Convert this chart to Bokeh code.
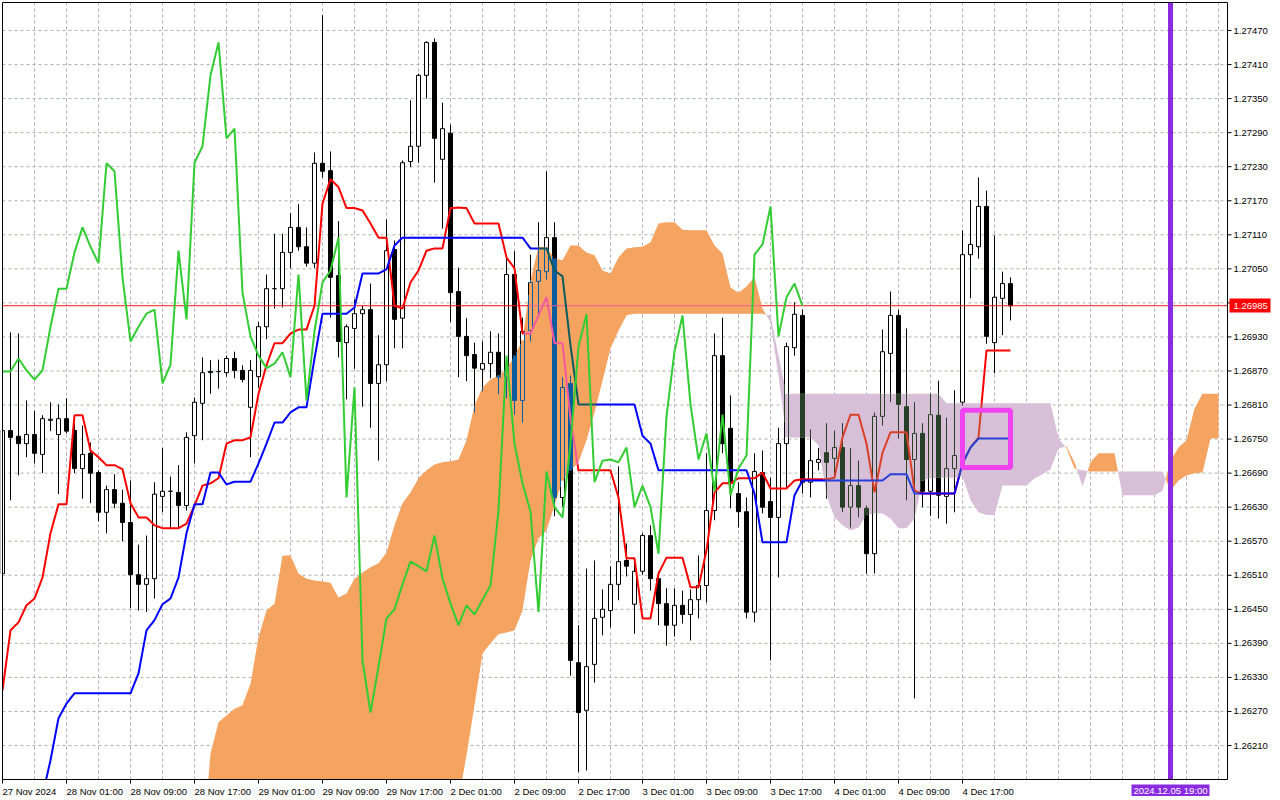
import numpy as np
from bokeh.plotting import figure
from bokeh.models import Range1d
from bokeh.core.properties import value
from bokeh.embed import file_html
from bokeh.resources import INLINE

# GBPUSD H1, bars from 27 Nov 17:00 to 4 Dec 23:00 (bar index = x)
open_ = [
    1.26513, 1.26765, 1.26755, 1.26742, 1.26758, 1.26723, 1.26783, 1.26758, 1.26786, 1.26765,
    1.26698, 1.26725, 1.26691, 1.26621, 1.26661, 1.26637, 1.26603, 1.26511, 1.26494, 1.26504,
    1.26649, 1.26658, 1.26656, 1.26633, 1.26756, 1.26813, 1.26867, 1.26869, 1.26867, 1.26892,
    1.26871, 1.26806, 1.26860, 1.26948, 1.27015, 1.27015, 1.27079, 1.27123, 1.27089, 1.27060,
    1.27236, 1.27223, 1.27038, 1.26920, 1.26945, 1.26971, 1.26978, 1.26848, 1.26881, 1.27084,
    1.26963, 1.27239, 1.27266, 1.27391, 1.27449, 1.27243, 1.27289, 1.27010, 1.26931, 1.26899,
    1.26873, 1.26883, 1.26903, 1.26859, 1.27040, 1.26818, 1.26941, 1.27028, 1.27045, 1.27105,
    1.26647, 1.26848, 1.26356, 1.26272, 1.26353, 1.26436, 1.26448, 1.26494, 1.26536, 1.26459,
    1.26517, 1.26580, 1.26504, 1.26460, 1.26422, 1.26457, 1.26441, 1.26467, 1.26492, 1.26624,
    1.26897, 1.26769, 1.26654, 1.26622, 1.26445, 1.26691, 1.26640, 1.26612, 1.26742, 1.26911,
    1.26968, 1.26674, 1.26709, 1.26726, 1.26716, 1.26735, 1.26630, 1.26668, 1.26628, 1.26548,
    1.26790, 1.26901, 1.26968, 1.26807, 1.26714, 1.26760, 1.26658, 1.26792, 1.26649, 1.26698,
    1.26815, 1.27075, 1.27089, 1.27160, 1.26920, 1.26998, 1.27024,
]
high = [
    1.26769, 1.26938, 1.26936, 1.26818, 1.26800, 1.26792, 1.26815, 1.26811, 1.26822, 1.26778,
    1.26774, 1.26744, 1.26695, 1.26668, 1.26688, 1.26661, 1.26677, 1.26564, 1.26580, 1.26674,
    1.26734, 1.26684, 1.26704, 1.26762, 1.26823, 1.26894, 1.26889, 1.26890, 1.26897, 1.26904,
    1.26880, 1.26889, 1.26956, 1.27040, 1.27112, 1.27112, 1.27148, 1.27164, 1.27123, 1.27255,
    1.27497, 1.27257, 1.27134, 1.26952, 1.26996, 1.26985, 1.27024, 1.26933, 1.27137, 1.27100,
    1.27241, 1.27347, 1.27394, 1.27451, 1.27456, 1.27343, 1.27304, 1.27052, 1.26963, 1.26920,
    1.26922, 1.26940, 1.26936, 1.27070, 1.27081, 1.26964, 1.27075, 1.27132, 1.27222, 1.27132,
    1.26859, 1.26862, 1.26422, 1.26522, 1.26536, 1.26485, 1.26526, 1.26702, 1.26566, 1.26540,
    1.26584, 1.26598, 1.26517, 1.26487, 1.26487, 1.26483, 1.26485, 1.26545, 1.26725, 1.26936,
    1.26964, 1.26827, 1.26674, 1.26647, 1.26725, 1.26730, 1.26682, 1.26770, 1.26920, 1.26991,
    1.26978, 1.26767, 1.26734, 1.26778, 1.26765, 1.26778, 1.26734, 1.26712, 1.26633, 1.26797,
    1.26943, 1.27010, 1.26978, 1.26945, 1.26815, 1.26778, 1.26830, 1.26853, 1.26788, 1.26836,
    1.27118, 1.27171, 1.27211, 1.27188, 1.27109, 1.27045, 1.27035,
]
low = [
    1.26510, 1.26642, 1.26686, 1.26718, 1.26707, 1.26690, 1.26764, 1.26653, 1.26760, 1.26690,
    1.26645, 1.26637, 1.26605, 1.26584, 1.26628, 1.26570, 1.26452, 1.26448, 1.26445, 1.26469,
    1.26621, 1.26593, 1.26594, 1.26624, 1.26707, 1.26748, 1.26830, 1.26839, 1.26860, 1.26857,
    1.26850, 1.26718, 1.26841, 1.26926, 1.26980, 1.26982, 1.27051, 1.27082, 1.27054, 1.27051,
    1.27211, 1.26964, 1.26894, 1.26820, 1.26874, 1.26807, 1.26770, 1.26712, 1.26852, 1.26910,
    1.26910, 1.27229, 1.27237, 1.27350, 1.27202, 1.27121, 1.26956, 1.26859, 1.26852, 1.26797,
    1.26834, 1.26857, 1.26829, 1.26822, 1.26793, 1.26779, 1.26922, 1.26964, 1.27031, 1.26614,
    1.26631, 1.26333, 1.26163, 1.26166, 1.26321, 1.26404, 1.26418, 1.26466, 1.26508, 1.26407,
    1.26511, 1.26483, 1.26422, 1.26386, 1.26402, 1.26425, 1.26395, 1.26434, 1.26462, 1.26607,
    1.26725, 1.26628, 1.26594, 1.26434, 1.26427, 1.26619, 1.26360, 1.26506, 1.26665, 1.26897,
    1.26654, 1.26647, 1.26695, 1.26645, 1.26681, 1.26621, 1.26594, 1.26612, 1.26513, 1.26513,
    1.26774, 1.26815, 1.26751, 1.26642, 1.26293, 1.26630, 1.26615, 1.26610, 1.26601, 1.26621,
    1.26809, 1.26998, 1.27068, 1.26918, 1.26866, 1.26933, 1.26959,
]
close = [
    1.26765, 1.26753, 1.26742, 1.26758, 1.26725, 1.26786, 1.26785, 1.26786, 1.26764, 1.26698,
    1.26723, 1.26690, 1.26621, 1.26661, 1.26637, 1.26603, 1.26511, 1.26494, 1.26504, 1.26653,
    1.26658, 1.26658, 1.26633, 1.26753, 1.26815, 1.26867, 1.26869, 1.26869, 1.26892, 1.26871,
    1.26855, 1.26871, 1.26948, 1.27015, 1.27015, 1.27079, 1.27123, 1.27089, 1.27060, 1.27236,
    1.27222, 1.27035, 1.26922, 1.26948, 1.26971, 1.26978, 1.26848, 1.26881, 1.27082, 1.26961,
    1.27237, 1.27266, 1.27391, 1.27449, 1.27280, 1.27297, 1.27008, 1.26931, 1.26897, 1.26875,
    1.26883, 1.26903, 1.26859, 1.27040, 1.26818, 1.26940, 1.27026, 1.27047, 1.27105, 1.26647,
    1.26841, 1.26360, 1.26268, 1.26349, 1.26434, 1.26450, 1.26494, 1.26534, 1.26526, 1.26517,
    1.26580, 1.26504, 1.26460, 1.26422, 1.26457, 1.26441, 1.26467, 1.26492, 1.26624, 1.26897,
    1.26742, 1.26672, 1.26622, 1.26445, 1.26693, 1.26630, 1.26612, 1.26742, 1.26913, 1.26970,
    1.26674, 1.26712, 1.26714, 1.26709, 1.26735, 1.26630, 1.26668, 1.26630, 1.26548, 1.26790,
    1.26904, 1.26968, 1.26811, 1.26714, 1.26760, 1.26658, 1.26793, 1.26651, 1.26698, 1.26721,
    1.27075, 1.27093, 1.27160, 1.26931, 1.27000, 1.27024, 1.26985,
]

# Ichimoku: Tenkan-sen (red), Kijun-sen (blue)
tenkan = [
    1.26307, 1.26413, 1.26427, 1.26457, 1.26469, 1.26506, 1.26584, 1.26635, 1.26635, 1.26792,
    1.26792, 1.26730, 1.26718, 1.26704, 1.26704, 1.26697, 1.26637, 1.26612, 1.26612, 1.26598,
    1.26593, 1.26593, 1.26593, 1.26601, 1.26633, 1.26668, 1.26672, 1.26681, 1.26742, 1.26748,
    1.26748, 1.26753, 1.26830, 1.26880, 1.26919, 1.26919, 1.26936, 1.26943, 1.26943, 1.26985,
    1.27165, 1.27208, 1.27194, 1.27157, 1.27157, 1.27153, 1.27130, 1.27105, 1.27105, 1.26985,
    1.26980, 1.27026, 1.27047, 1.27082, 1.27086, 1.27086, 1.27157, 1.27158, 1.27157, 1.27130,
    1.27130, 1.27130, 1.27130, 1.27070, 1.27051, 1.26936, 1.26936, 1.26968, 1.27000, 1.26919,
    1.26919, 1.26786, 1.26695, 1.26695, 1.26695, 1.26695, 1.26695, 1.26647, 1.26540, 1.26540,
    1.26434, 1.26434, 1.26513, 1.26541, 1.26541, 1.26541, 1.26489, 1.26489, 1.26554, 1.26656,
    1.26672, 1.26672, 1.26681, 1.26681, 1.26681, 1.26691, 1.26663, 1.26663, 1.26663, 1.26677,
    1.26679, 1.26679, 1.26679, 1.26679, 1.26682, 1.26753, 1.26793, 1.26793, 1.26742, 1.26656,
    1.26726, 1.26762, 1.26762, 1.26762, 1.26659, 1.26654, 1.26654, 1.26654, 1.26654, 1.26654,
    1.26707, 1.26735, 1.26753, 1.26906, 1.26906, 1.26906, 1.26906,
]
kijun = [
    1.26040, 1.26045, 1.26050, 1.26060, 1.26090, 1.26122, 1.26184, 1.26258, 1.26284, 1.26302,
    1.26302, 1.26302, 1.26302, 1.26302, 1.26302, 1.26302, 1.26302, 1.26337, 1.26413, 1.26431,
    1.26459, 1.26469, 1.26506, 1.26584, 1.26635, 1.26635, 1.26691, 1.26691, 1.26670, 1.26675,
    1.26675, 1.26675, 1.26707, 1.26742, 1.26779, 1.26779, 1.26797, 1.26806, 1.26806, 1.26892,
    1.26971, 1.26971, 1.26971, 1.26971, 1.26982, 1.27042, 1.27042, 1.27042, 1.27049, 1.27091,
    1.27105, 1.27105, 1.27105, 1.27105, 1.27105, 1.27105, 1.27105, 1.27105, 1.27105, 1.27105,
    1.27105, 1.27105, 1.27105, 1.27105, 1.27105, 1.27105, 1.27086, 1.27086, 1.27086, 1.27047,
    1.27037, 1.26915, 1.26811, 1.26811, 1.26811, 1.26811, 1.26811, 1.26811, 1.26811, 1.26811,
    1.26756, 1.26742, 1.26695, 1.26695, 1.26695, 1.26695, 1.26695, 1.26695, 1.26695, 1.26695,
    1.26695, 1.26695, 1.26695, 1.26695, 1.26654, 1.26568, 1.26568, 1.26568, 1.26568, 1.26651,
    1.26677, 1.26677, 1.26677, 1.26677, 1.26677, 1.26677, 1.26677, 1.26677, 1.26677, 1.26677,
    1.26677, 1.26688, 1.26688, 1.26688, 1.26654, 1.26654, 1.26654, 1.26654, 1.26654, 1.26654,
    1.26707, 1.26735, 1.26751, 1.26751, 1.26751, 1.26751, 1.26751,
]
# Senkou Span A / B, already shifted 26 bars forward (153 values)
span_a = [
    1.25962, 1.25958, 1.25971, 1.25983, 1.25979, 1.25990, 1.26001, 1.25996, 1.26004, 1.26012,
    1.26008, 1.26015, 1.26021, 1.26017, 1.26010, 1.26006, 1.26013, 1.26019, 1.26024, 1.26016,
    1.26009, 1.26014, 1.26020, 1.26018, 1.26022, 1.26025, 1.26196, 1.26251, 1.26263, 1.26275,
    1.26281, 1.26319, 1.26401, 1.26448, 1.26460, 1.26545, 1.26545, 1.26513, 1.26504, 1.26501,
    1.26499, 1.26497, 1.26471, 1.26478, 1.26504, 1.26515, 1.26524, 1.26531, 1.26550, 1.26598,
    1.26637, 1.26656, 1.26681, 1.26695, 1.26705, 1.26709, 1.26711, 1.26714, 1.26748, 1.26809,
    1.26841, 1.26855, 1.26862, 1.26873, 1.26897, 1.26924, 1.27030, 1.27089, 1.27089, 1.27068,
    1.27065, 1.27091, 1.27091, 1.27079, 1.27074, 1.27047, 1.27042, 1.27070, 1.27086, 1.27088,
    1.27089, 1.27097, 1.27130, 1.27132, 1.27132, 1.27119, 1.27118, 1.27118, 1.27118, 1.27091,
    1.27077, 1.27017, 1.27008, 1.27019, 1.27035, 1.26980, 1.26956, 1.26862, 1.26753, 1.26753,
    1.26753, 1.26753, 1.26739, 1.26651, 1.26612, 1.26598, 1.26589, 1.26594, 1.26616, 1.26619,
    1.26619, 1.26610, 1.26593, 1.26593, 1.26610, 1.26677, 1.26681, 1.26682, 1.26682, 1.26682,
    1.26684, 1.26642, 1.26621, 1.26616, 1.26616, 1.26668, 1.26668, 1.26668, 1.26668, 1.26681,
    1.26688, 1.26697, 1.26734, 1.26737, 1.26709, 1.26667, 1.26709, 1.26725, 1.26725, 1.26725,
    1.26651, 1.26651, 1.26651, 1.26651, 1.26651, 1.26659, 1.26712, 1.26735, 1.26748, 1.26804,
    1.26830, 1.26830, 1.26830,
]
span_b = [
    1.25912, 1.25912, 1.25908, 1.25908, 1.25915, 1.25915, 1.25915, 1.25920, 1.25920, 1.25926,
    1.25926, 1.25926, 1.25931, 1.25931, 1.25931, 1.25937, 1.25937, 1.25940, 1.25940, 1.25940,
    1.25944, 1.25944, 1.25950, 1.25950, 1.25950, 1.25955, 1.25955, 1.25960, 1.25960, 1.25966,
    1.25966, 1.25970, 1.25970, 1.25974, 1.25974, 1.25980, 1.25985, 1.25985, 1.25990, 1.25994,
    1.25998, 1.26002, 1.26006, 1.26010, 1.26013, 1.26016, 1.26020, 1.26024, 1.26028, 1.26031,
    1.26035, 1.26040, 1.26045, 1.26052, 1.26060, 1.26072, 1.26090, 1.26113, 1.26193, 1.26281,
    1.26372, 1.26390, 1.26406, 1.26409, 1.26413, 1.26448, 1.26536, 1.26575, 1.26589, 1.26633,
    1.26677, 1.26695, 1.26709, 1.26748, 1.26797, 1.26853, 1.26910, 1.26941, 1.26968, 1.26971,
    1.26971, 1.26971, 1.26971, 1.26971, 1.26971, 1.26971, 1.26971, 1.26971, 1.26971, 1.26971,
    1.26971, 1.26971, 1.26971, 1.26971, 1.26971, 1.26971, 1.26968, 1.26897, 1.26830, 1.26830,
    1.26830, 1.26830, 1.26830, 1.26830, 1.26830, 1.26830, 1.26830, 1.26830, 1.26830, 1.26830,
    1.26830, 1.26830, 1.26830, 1.26830, 1.26830, 1.26830, 1.26830, 1.26830, 1.26813, 1.26813,
    1.26813, 1.26813, 1.26813, 1.26813, 1.26813, 1.26813, 1.26813, 1.26813, 1.26813, 1.26813,
    1.26813, 1.26813, 1.26751, 1.26734, 1.26698, 1.26695, 1.26693, 1.26693, 1.26693, 1.26693,
    1.26693, 1.26693, 1.26693, 1.26693, 1.26693, 1.26693, 1.26659, 1.26677, 1.26686, 1.26690,
    1.26691, 1.26751, 1.26751,
]

price_ticks = [
    1.26210, 1.26270, 1.26330, 1.26390, 1.26450, 1.26510, 1.26570, 1.26630, 1.26690, 1.26750,
    1.26810, 1.26870, 1.26930, 1.26990, 1.27050, 1.27110, 1.27170, 1.27230, 1.27290, 1.27350,
    1.27410, 1.27470,
]
label_bars = [0, 8, 16, 24, 32, 40, 48, 56, 64, 72, 80, 88, 96, 104, 112, 120]
time_labels = [
    "27 Nov 2024", "28 Nov 01:00", "28 Nov 09:00", "28 Nov 17:00", "29 Nov 01:00",
    "29 Nov 09:00", "29 Nov 17:00", "2 Dec 01:00", "2 Dec 09:00", "2 Dec 17:00",
    "3 Dec 01:00", "3 Dec 09:00", "3 Dec 17:00", "4 Dec 01:00", "4 Dec 09:00", "4 Dec 17:00",
]
last_price = 1.26985
marker_bar = 146
marker_text = "2024.12.05 19:00"
box_bars = (120, 126)
box_prices = (1.26700, 1.26801)

ORANGE = "#f4a460"
THISTLE = "#d8bfd8"
FONT = "Liberation Sans"
FS = "9.5px"

# canvas geometry: 8 px per bar, bar 0 at x=2; 1.27470 at y=30
W, H = 1272, 796
PX_BAR = 8.0
PX_PRICE = 0.000017622


def bar_at(px):
    return (px - 2) / PX_BAR


def price_at(py):
    return price_ticks[-1] - (py - 30) * PX_PRICE


XL, XR = 0.0, bar_at(1227)
YB, YT = price_at(779), price_at(2)

A = np.array(span_a)
B = np.array(span_b)
cx = np.arange(len(A))


def cloud_kind(x, y):
    a = np.interp(x, cx, A)
    b = np.interp(x, cx, B)
    inside = (y >= np.minimum(a, b)) & (y <= np.maximum(a, b)) & (x >= 0) & (x <= cx[-1])
    return np.where(inside, np.where(a >= b, 1, 2), 0)


def xor(color, kind):
    # MT5 paints the cloud in XOR mode: things under it change colour
    if kind == 0:
        return color
    cloud = ORANGE if kind == 1 else THISTLE
    v = int(color[1:], 16) ^ int(cloud[1:], 16) ^ 0xFFFFFF
    return "#%06x" % v


p = figure(width=W, height=H, x_range=Range1d(bar_at(0), bar_at(W)),
           y_range=Range1d(price_at(H), price_at(0)), x_axis_type=None, y_axis_type=None,
           output_backend="svg", toolbar_location=None, min_border=0)
p.outline_line_color = None
p.background_fill_color = "white"
p.border_fill_color = "white"

# dashed grid
gx = list(range(4, 153, 4))
p.segment(x0=gx, y0=[YB] * len(gx), x1=gx, y1=[YT] * len(gx),
          line_color="#bba6bb", line_dash="3 3", line_width=1)
n = len(price_ticks)
p.segment(x0=[XL] * n, y0=price_ticks, x1=[XR] * n, y1=price_ticks,
          line_color="#a6b6a6", line_dash="3 3", line_width=1)

# cloud, with crossing points inserted so the colours switch cleanly
xs, ya, yb = [0.0], [A[0]], [B[0]]
for k in range(len(A) - 1):
    d0, d1 = A[k] - B[k], A[k + 1] - B[k + 1]
    if d0 * d1 < 0:
        t = d0 / (d0 - d1)
        v = A[k] + t * (A[k + 1] - A[k])
        xs.append(k + t); ya.append(v); yb.append(v)
    xs.append(k + 1.0); ya.append(A[k + 1]); yb.append(B[k + 1])
xs, ya, yb = np.array(xs), np.array(ya), np.array(yb)
top = np.maximum(ya, yb)
p.varea(x=xs, y1=yb, y2=top, fill_color=ORANGE)
p.varea(x=xs, y1=ya, y2=top, fill_color=THISTLE)


def band(x):
    a = float(np.interp(x, cx, A))
    b = float(np.interp(x, cx, B))
    return min(a, b), max(a, b), (1 if a >= b else 2)


def vsplit(x, y0, y1):
    lo, hi, kind = band(x)
    cuts = sorted({y0, y1} | {v for v in (lo, hi) if y0 < v < y1})
    out = []
    for u, v in zip(cuts[:-1], cuts[1:]):
        m = (u + v) / 2
        out.append((u, v, kind if lo <= m <= hi else 0))
    return out


# candles
hw = 0.25
fq = dict(left=[], right=[], bottom=[], top=[], color=[])
sg = dict(x0=[], y0=[], x1=[], y1=[], color=[])


def add_vseg(x, y0, y1):
    for u, v, kind in vsplit(x, y0, y1):
        sg["x0"].append(x); sg["y0"].append(u); sg["x1"].append(x); sg["y1"].append(v)
        sg["color"].append(xor("#000000", kind))


for i in range(len(close)):
    o, h, l, c = open_[i], high[i], low[i], close[i]
    bot, tp = min(o, c), max(o, c)
    body = "#000000" if c < o else "#ffffff"
    add_vseg(i, l, bot)
    add_vseg(i, tp, h)
    for u, v, kind in vsplit(i, bot, tp):
        fq["left"].append(i - hw); fq["right"].append(i + hw)
        fq["bottom"].append(u); fq["top"].append(v)
        fq["color"].append(xor(body, kind))
    add_vseg(i - hw, bot, tp)
    add_vseg(i + hw, bot, tp)
    for yy in (bot, tp):
        kind = int(cloud_kind(np.array([float(i)]), np.array([yy]))[0])
        sg["x0"].append(i - hw); sg["y0"].append(yy); sg["x1"].append(i + hw); sg["y1"].append(yy)
        sg["color"].append(xor("#000000", kind))

p.quad(left="left", right="right", bottom="bottom", top="top", fill_color="color",
       line_color=None, source=fq)
p.segment(x0="x0", y0="y0", x1="x1", y1="y1", line_color="color", line_width=1, source=sg)


def draw_line(x, y, color, width):
    x = np.asarray(x, float)
    y = np.asarray(y, float)
    px, py = [], []
    for k in range(len(x) - 1):
        m = int(max(abs(x[k + 1] - x[k]) * PX_BAR, abs(y[k + 1] - y[k]) / PX_PRICE) / 2) + 1
        t = np.linspace(0, 1, m + 1)[:-1]
        px.extend(x[k] + t * (x[k + 1] - x[k]))
        py.extend(y[k] + t * (y[k + 1] - y[k]))
    px.append(x[-1]); py.append(y[-1])
    px, py = np.array(px), np.array(py)
    kinds = cloud_kind((px[:-1] + px[1:]) / 2, (py[:-1] + py[1:]) / 2)
    lx, ly, lc = [], [], []
    s = 0
    for j in range(1, len(kinds) + 1):
        if j == len(kinds) or kinds[j] != kinds[s]:
            lx.append(list(px[s:j + 1])); ly.append(list(py[s:j + 1]))
            lc.append(xor(color, int(kinds[s])))
            s = j
    p.multi_line(xs=lx, ys=ly, line_color=lc, line_width=width)


bars = np.arange(len(close))
draw_line([XL, XR], [last_price, last_price], "#ff0000", 1)
draw_line(bars, tenkan, "#ff0000", 2)
draw_line(bars, kijun, "#0000ff", 2)

# Chikou span: close shifted 26 bars back
p.line(bars[:len(close) - 26], close[26:], line_color="#32cd32", line_width=2)

p.quad(left=[box_bars[0]], right=[box_bars[1]], bottom=[box_prices[0]], top=[box_prices[1]],
       fill_color=None, line_color="#f043f0", line_width=5)
p.segment(x0=[marker_bar], y0=[YB], x1=[marker_bar], y1=[YT], line_color="#8a2be2", line_width=5)

# white masks outside the chart window
p.quad(left=[bar_at(-10), XR, bar_at(-10), bar_at(-10)],
       right=[XL, bar_at(W + 10), bar_at(W + 10), bar_at(W + 10)],
       bottom=[price_at(H + 10), price_at(H + 10), price_at(H + 10), YT],
       top=[price_at(-10), price_at(-10), YB, price_at(-10)],
       fill_color="white", line_color=None)

# frame and axes
p.segment(x0=[XL, XL, XR, XL], y0=[YT, YB, YB, YT], x1=[XR, XR, XR, XL], y1=[YT, YB, YT, YB],
          line_color="black", line_width=1)
p.segment(x0=[XR] * n, y0=price_ticks, x1=[bar_at(1231)] * n, y1=price_ticks,
          line_color="black", line_width=1)
nb = len(label_bars)
p.segment(x0=label_bars, y0=[YB] * nb, x1=label_bars, y1=[price_at(783)] * nb,
          line_color="black", line_width=1)

near = [abs(t - last_price) < 9 * PX_PRICE for t in price_ticks]
shown = [t for t, hide in zip(price_ticks, near) if not hide]
p.text(x=[bar_at(1233)] * len(shown), y=shown, text=["%.5f" % t for t in shown],
       text_align="left", text_baseline="middle", text_font=value(FONT),
       text_font_size=value(FS), text_color="black")
p.text(x=label_bars, y=[price_at(785)] * nb, text=time_labels,
       text_align="left", text_baseline="top", text_font=value(FONT),
       text_font_size=value(FS), text_color="black")

# current price tag and vertical marker tag
p.quad(left=[bar_at(1229)], right=[bar_at(1270)], bottom=[price_at(312)], top=[price_at(298)],
       fill_color="#ff0000", line_color=None)
p.text(x=[bar_at(1233)], y=[last_price], text=["%.5f" % last_price], text_align="left",
       text_baseline="middle", text_font=value(FONT), text_font_size=value(FS),
       text_color="white")
p.quad(left=[bar_at(1131)], right=[bar_at(1209)], bottom=[price_at(796)], top=[price_at(784)],
       fill_color="#8a2be2", line_color=None)
p.text(x=[marker_bar], y=[price_at(790)], text=[marker_text], text_align="center",
       text_baseline="middle", text_font=value(FONT), text_font_size=value(FS),
       text_color="white")

open("out.html", "w").write(file_html(p, INLINE))
